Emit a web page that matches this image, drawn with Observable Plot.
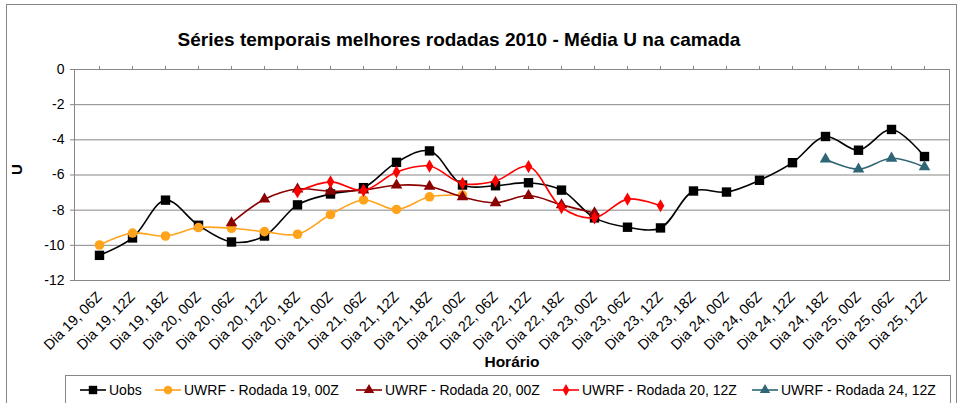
<!DOCTYPE html>
<html>
<head>
<meta charset="utf-8">
<script src="https://cdn.jsdelivr.net/npm/d3@7"></script>
<script src="https://cdn.jsdelivr.net/npm/@observablehq/plot@0.6"></script>
<style>
  html, body { margin: 0; padding: 0; background: #fff; }
  body { width: 961px; height: 403px; overflow: hidden; position: relative; font-family: "Liberation Sans", Arial, sans-serif; }
  #border { position: absolute; left: 6px; top: 4px; width: 951px; height: 420px; border: 1px solid #868686; box-sizing: border-box; }
  #title { position: absolute; left: 0; width: 918px; top: 29px; text-align: center; font-size: 19px; font-weight: bold; color: #000; }
  #chart { position: absolute; left: 0; top: 0; }
  #legend { position: absolute; left: 65px; top: 375px; width: 886px; height: 34px; border: 1px solid #868686; box-sizing: border-box; }
  .item { position: absolute; top: 5px; height: 18px; display: flex; align-items: center; font-size: 14px; color: #000; white-space: nowrap; }
  .item svg { margin-right: 3px; }
</style>
</head>
<body>
<div id="border"></div>
<div id="title">Séries temporais melhores rodadas 2010 - Média U na camada</div>
<div id="chart"></div>
<div id="legend"></div>
<script>
const categories = [
  "Dia 19, 06Z", "Dia 19, 12Z", "Dia 19, 18Z",
  "Dia 20, 00Z", "Dia 20, 06Z", "Dia 20, 12Z", "Dia 20, 18Z",
  "Dia 21, 00Z", "Dia 21, 06Z", "Dia 21, 12Z", "Dia 21, 18Z",
  "Dia 22, 00Z", "Dia 22, 06Z", "Dia 22, 12Z", "Dia 22, 18Z",
  "Dia 23, 00Z", "Dia 23, 06Z", "Dia 23, 12Z", "Dia 23, 18Z",
  "Dia 24, 00Z", "Dia 24, 06Z", "Dia 24, 12Z", "Dia 24, 18Z",
  "Dia 25, 00Z", "Dia 25, 06Z", "Dia 25, 12Z"
];
const yTicks = [-12, -10, -8, -6, -4, -2, 0];

const uobs = [-10.57, -9.58, -7.43, -8.86, -9.81, -9.47, -7.70, -7.08, -6.72, -5.28, -4.63, -6.57, -6.61,
              -6.44, -6.86, -8.44, -8.97, -9.01, -6.91, -6.97, -6.30, -5.30, -3.81, -4.59, -3.41, -4.95];
const rodada19_00Start = 0;
const rodada19_00 = [-9.98, -9.30, -9.47, -8.99, -9.03, -9.22, -9.37, -8.25, -7.42, -7.96, -7.24, -7.14];
const rodada20_00Start = 4;
const rodada20_00 = [-8.72, -7.38, -6.80, -6.92, -6.86, -6.58, -6.65, -7.25, -7.58, -7.17, -7.70, -8.16];
const rodada20_12Start = 6;
const rodada20_12 = [-6.95, -6.39, -6.88, -5.83, -5.49, -6.48, -6.34, -5.52, -7.85, -8.44, -7.37, -7.75];
const rodada24_12Start = 22;
const rodada24_12 = [-5.10, -5.67, -5.05, -5.54];

const seriesNames = ["Uobs", "UWRF - Rodada 19, 00Z", "UWRF - Rodada 20, 00Z", "UWRF - Rodada 20, 12Z", "UWRF - Rodada 24, 12Z"];
const seriesColors = ["#000000", "#FFA31A", "#8B0000", "#FF0000", "#2F6676"];
const seriesSymbols = ["square", "circle", "triangle", "diamond", "triangle"];
const seriesR = [5.3, 4.8, 4.3, 4.0, 4.3];

const seriesData = [
  [uobs, 0], [rodada19_00, rodada19_00Start], [rodada20_00, rodada20_00Start],
  [rodada20_12, rodada20_12Start], [rodada24_12, rodada24_12Start]
];
const rows = seriesData.map(([vals, start], s) =>
  vals.map((v, i) => ({series: seriesNames[s], x: categories[start + i], y: v})));

const grid = "#868686";
const marks = [
  Plot.gridY(yTicks, {stroke: grid, strokeOpacity: 1, strokeWidth: 1}),
  Plot.frame({stroke: grid, strokeWidth: 1}),
  Plot.axisY(yTicks, {tickSize: 4, tickPadding: 6, fontSize: 14, stroke: grid, fill: "#000", label: null, tickFormat: d => String(d)}),
  Plot.axisX({anchor: "top", tickSize: 4, tickFormat: () => "", stroke: grid, label: null}),
  Plot.axisX({anchor: "bottom", tickSize: 0, tickPadding: 14, tickRotate: -45, fontSize: 14.5, fill: "#000", label: null}),
  Plot.text(["Horário"], {frameAnchor: "bottom", lineAnchor: "middle", dy: 82, fontSize: 15.5, fontWeight: "bold", fill: "#000"}),
  Plot.text(["U"], {frameAnchor: "left", lineAnchor: "middle", dx: -57, rotate: -90, fontSize: 15, fontWeight: "bold", fill: "#000"})
];
rows.forEach((r, s) => {
  marks.push(Plot.line(r, {x: "x", y: "y", stroke: seriesColors[s], strokeWidth: 1.6, curve: "catmull-rom"}));
  marks.push(Plot.dot(r, {x: "x", y: "y", fill: seriesColors[s], stroke: "none", symbol: () => seriesSymbols[s], r: seriesR[s]}));
});

const chart = Plot.plot({
  width: 961,
  height: 372,
  marginLeft: 74,
  marginRight: 12,
  marginTop: 69,
  marginBottom: 92,
  style: {fontFamily: "Liberation Sans, Arial, sans-serif", background: "transparent", overflow: "visible"},
  x: {type: "point", domain: categories, padding: 0.5},
  y: {domain: [-12, 0]},
  marks
});
document.getElementById("chart").appendChild(chart);

// Legend
const legendX = [14, 89, 290, 487, 686];
const legend = document.getElementById("legend");
seriesNames.forEach((name, s) => {
  const item = document.createElement("div");
  item.className = "item";
  item.style.left = legendX[s] + "px";
  const sw = d3.create("svg").attr("width", 26).attr("height", 18);
  sw.append("line").attr("x1", 0).attr("x2", 26).attr("y1", 9).attr("y2", 9)
    .attr("stroke", seriesColors[s]).attr("stroke-width", 1.6);
  const symMap = {square: d3.symbolSquare, circle: d3.symbolCircle, triangle: d3.symbolTriangle, diamond: d3.symbolDiamond};
  sw.append("path").attr("transform", "translate(13,9)")
    .attr("d", d3.symbol(symMap[seriesSymbols[s]], Math.PI * seriesR[s] * seriesR[s] * 0.8)())
    .attr("fill", seriesColors[s]);
  item.appendChild(sw.node());
  const t = document.createElement("span");
  t.textContent = name;
  item.appendChild(t);
  legend.appendChild(item);
});
</script>
</body>
</html>
